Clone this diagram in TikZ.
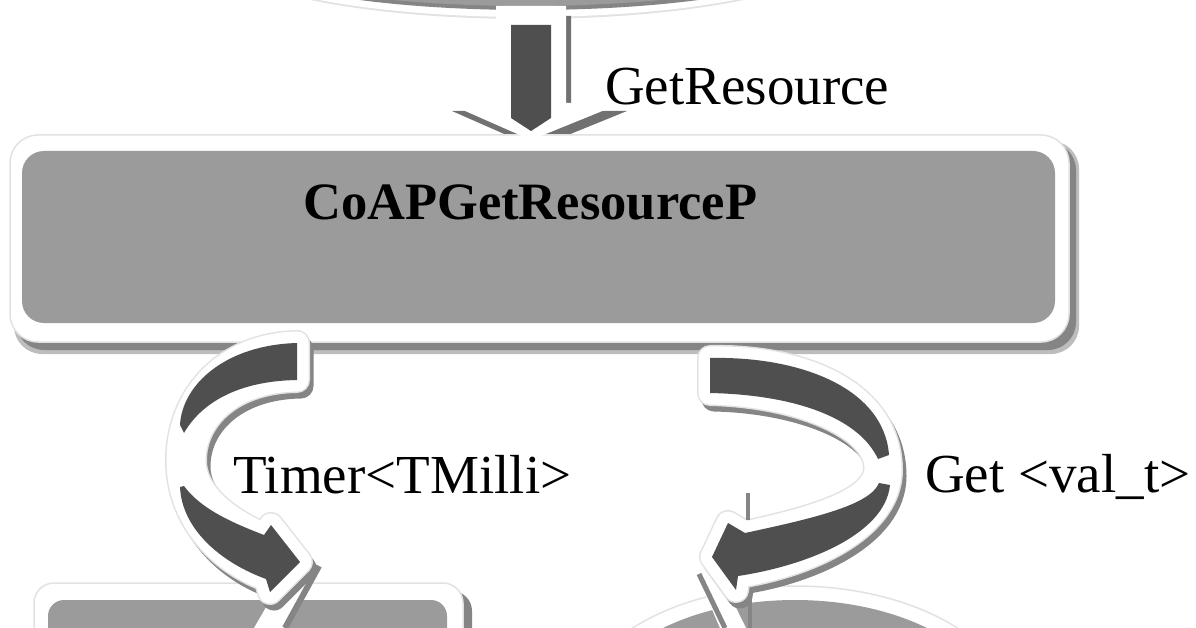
\documentclass[tikz,border=0pt]{standalone}
\usepackage{fontspec}
\setmainfont{Liberation Serif}
\definecolor{boxgray}{HTML}{9B9B9B}
\definecolor{darkband}{HTML}{4F4F4F}
\definecolor{shadowgray}{HTML}{858585}
\definecolor{softgray}{HTML}{BDBDBD}
\definecolor{rim}{HTML}{E2E2E2}
\begin{document}
\begin{tikzpicture}[x=1pt,y=-1pt,
  lbl/.style={font=\fontsize{55}{60}\selectfont, inner sep=0pt, anchor=base west, text=black},
  ttl/.style={font=\fontsize{52.5}{58}\selectfont\bfseries, inner sep=0pt, anchor=base west, text=black},
  shadowfill/.style={fill=shadowgray, draw=shadowgray, line width=25pt, line join=round},
  rimfill/.style={fill=rim, draw=rim, line width=26pt, line join=round},
  ringfill/.style={fill=white, draw=white, line width=23pt, line join=round},
  bandfill/.style={fill=darkband},
  leftcurl/.pic={\path[pic actions] (297,343) .. controls (220,345) and (178,400) .. (178,460)
      .. controls (178,520) and (220,562) .. (266,579) -- (270,592) -- (300,562) -- (271,525) -- (264,535)
      .. controls (230,520) and (195,495) .. (194,462) .. controls (193,420) and (230,381) .. (297,380) -- cycle;},
  leftband/.pic={
    \path[pic actions] (297,343) .. controls (225,345) and (182,385) .. (180,425) -- (184,433)
      .. controls (200,405) and (235,381) .. (297,380) -- cycle;
    \path[pic actions] (180,487) .. controls (182,530) and (222,563) .. (266,579) -- (270,592) -- (300,562)
      -- (271,525) -- (264,535) .. controls (230,522) and (200,508) .. (184,486) -- cycle;},
  rightcurl/.pic={\path[pic actions] (710,358) .. controls (800,356) and (890,390) .. (890,470)
      .. controls (890,530) and (805,566) .. (738,576) -- (736,590) -- (712,557) -- (728,523) -- (745,533)
      .. controls (815,518) and (876,500) .. (876,468) .. controls (876,428) and (800,395) .. (710,393) -- cycle;},
  rightband/.pic={
    \path[pic actions] (710,358) .. controls (800,356) and (884,388) .. (889,455) -- (878,459)
      .. controls (860,420) and (800,395) .. (710,393) -- cycle;
    \path[pic actions] (890,485) .. controls (885,535) and (805,566) .. (738,576) -- (736,590) -- (712,557)
      -- (728,523) -- (745,533) .. controls (815,518) and (870,505) .. (879,483) -- cycle;}
]
\useasboundingbox (0,0) rectangle (1196,628);
\clip (0,0) rectangle (1196,628);
\fill[white] (0,0) rectangle (1196,628);

% top ellipse (partly visible)
\fill[rim] (527,-53) ellipse [x radius=320, y radius=72];
\fill[white] (527,-53) ellipse [x radius=318, y radius=70];
\fill[shadowgray] (529,-49) ellipse [x radius=304, y radius=59];
\fill[boxgray] (527,-53) ellipse [x radius=303, y radius=59];

% down arrow shadow
\fill[shadowgray!85!black, shift={(5,8)}] (496,8) -- (566,8) -- (566,103) -- (622,103) -- (531,140) -- (447,103) -- (496,103) -- cycle;

% main box
\fill[softgray, rounded corners=28] (14,141) rectangle (1079,354);
\fill[shadowgray, rounded corners=28] (16,142) rectangle (1076,350);
\filldraw[fill=white, draw=rim, line width=1.5, rounded corners=28] (10,135) rectangle (1069,342);
\fill[boxgray, rounded corners=22] (22,151) rectangle (1055,323);

% down arrow
\fill[white] (496,6) -- (566,6) -- (566,103) -- (622,103) -- (531,140) -- (447,103) -- (496,103) -- cycle;
\fill[darkband] (511,25) -- (551,25) -- (551,118) -- (531,131) -- (511,118) -- cycle;

\node[ttl] (title) at (303,220) {CoAPGetResourceP};

% bottom left box
\fill[shadowgray, rounded corners=20] (40,591) rectangle (472,720);
\filldraw[fill=white, draw=rim, line width=1.5, rounded corners=20] (34,583) rectangle (463,720);
\fill[boxgray, rounded corners=16] (48,600) rectangle (447,720);

% bottom right ellipse
\fill[softgray] (801,724) ellipse [x radius=222, y radius=132];
\filldraw[fill=white, draw=rim, line width=1.5] (795,718) ellipse [x radius=222, y radius=132];
\fill[boxgray] (795,718) ellipse [x radius=204, y radius=118];

% left arrow head extrusion
\fill[white] (290,566) -- (320,563) -- (287,628) -- (254,628) -- cycle;
\draw[shadowgray, line width=6] (319,566) -- (285,628);

% left curved arrow
\pic[shadowfill] at (4,6) {leftcurl};
\pic[rimfill] at (0,0) {leftcurl};
\pic[ringfill] at (0,0) {leftcurl};
\pic[bandfill] at (0,0) {leftband};

% right arrow head extrusion
\fill[white] (692,563) -- (714,563) -- (746,628) -- (720,628) -- cycle;
\draw[shadowgray, line width=5] (699,574) -- (725,628);
\draw[shadowgray, line width=4] (750,593) -- (750,628);

% right curved arrow
\pic[shadowfill] at (4,6) {rightcurl};
\pic[rimfill] at (0,0) {rightcurl};
\pic[ringfill] at (0,0) {rightcurl};
\pic[bandfill] at (0,0) {rightband};
\draw[shadowgray, line width=4] (748,493) -- (748,520);

% labels
\node[lbl] (getres) at (605,105) {GetResource};
\node[lbl] (timer) at (233,493) {Timer<TMilli>};
\node[lbl] (getval) at (925,492) {Get <val\_t>};
\end{tikzpicture}
\end{document}
